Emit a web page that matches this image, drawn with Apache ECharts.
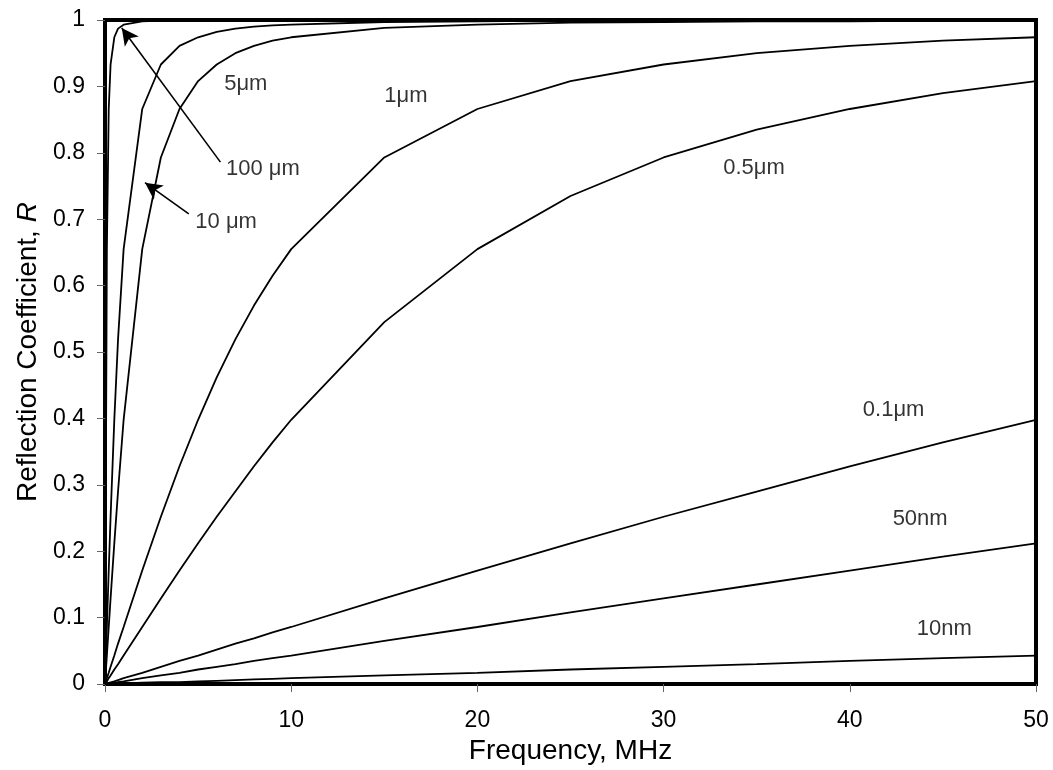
<!DOCTYPE html>
<html>
<head>
<meta charset="utf-8">
<script src="https://cdn.jsdelivr.net/npm/echarts@6/dist/echarts.min.js"></script>
<style>html,body{margin:0;padding:0;background:#fff}#c{width:1053px;height:770px}</style>
</head>
<body>
<div id="c"></div>
<script>
// Frequency (MHz)
const freq = [0, 0.1, 0.2, 0.3, 0.5, 0.7, 1, 2, 3, 4, 5, 6, 7, 8, 9, 10, 15, 20, 25, 30, 35, 40, 45, 50];
// Reflection coefficient R per film thickness
const r100um = [0, 0.655, 0.866, 0.933, 0.974, 0.987, 0.993, 0.998, 0.999, 0.9995, 0.9996, 0.9997, 0.9998, 0.9998, 0.9998, 0.9999, 0.9999, 0.9999, 0.9999, 0.9999, 0.9999, 0.9999, 0.9999, 0.9999];
const r10um  = [0, 0.086, 0.171, 0.252, 0.398, 0.519, 0.655, 0.866, 0.933, 0.961, 0.974, 0.982, 0.987, 0.990, 0.992, 0.993, 0.997, 0.998, 0.999, 0.999, 0.9995, 0.9996, 0.9997, 0.9997];
const r5um   = [0, 0.043, 0.086, 0.129, 0.212, 0.290, 0.398, 0.655, 0.793, 0.866, 0.908, 0.933, 0.950, 0.961, 0.969, 0.974, 0.988, 0.993, 0.996, 0.997, 0.998, 0.998, 0.999, 0.999];
const r1um   = [0, 0.009, 0.017, 0.026, 0.043, 0.061, 0.086, 0.171, 0.252, 0.328, 0.398, 0.462, 0.519, 0.570, 0.615, 0.655, 0.793, 0.866, 0.908, 0.933, 0.950, 0.961, 0.969, 0.974];
const r05um  = [0, 0.004, 0.009, 0.013, 0.022, 0.030, 0.043, 0.086, 0.129, 0.171, 0.212, 0.252, 0.290, 0.328, 0.364, 0.398, 0.545, 0.655, 0.735, 0.793, 0.835, 0.866, 0.890, 0.908];
const r01um  = [0, 0.001, 0.002, 0.003, 0.004, 0.006, 0.009, 0.017, 0.026, 0.035, 0.043, 0.052, 0.061, 0.069, 0.078, 0.086, 0.129, 0.171, 0.212, 0.252, 0.290, 0.328, 0.364, 0.398];
const r50nm  = [0, 0.0004, 0.001, 0.001, 0.002, 0.003, 0.004, 0.009, 0.013, 0.017, 0.022, 0.026, 0.030, 0.035, 0.039, 0.043, 0.065, 0.086, 0.108, 0.129, 0.150, 0.171, 0.192, 0.212];
const r10nm  = [0, 0.0001, 0.0002, 0.0003, 0.0004, 0.0006, 0.001, 0.002, 0.003, 0.003, 0.004, 0.005, 0.006, 0.007, 0.008, 0.009, 0.013, 0.017, 0.022, 0.026, 0.030, 0.035, 0.039, 0.043];
const seriesList = [
  ['100 μm', r100um], ['10 μm', r10um], ['5μm', r5um], ['1μm', r1um],
  ['0.5μm', r05um], ['0.1μm', r01um], ['50nm', r50nm], ['10nm', r10nm]
];
// Annotation labels: [x, y, text]
const labels = [
  [6.4, 0.903, '5μm'],
  [6.5, 0.775, '100 μm'],
  [4.85, 0.696, '10 μm'],
  [15.0, 0.885, '1μm'],
  [33.2, 0.777, '0.5μm'],
  [40.7, 0.413, '0.1μm'],
  [42.3, 0.248, '50nm'],
  [43.6, 0.0835, '10nm']
];
// Arrows: [tailX, tailY, tipX, tipY]
const arrows = [
  [6.2, 0.786, 0.9, 0.988],
  [4.5, 0.708, 2.15, 0.755]
];
const xTicks = {min: 0, max: 50, interval: 10};
const yTicks = {min: 0, max: 1, interval: 0.1};

const font = 'Liberation Sans, Arial, sans-serif';
const chart = echarts.init(document.getElementById('c'), null, {renderer: 'canvas'});
const series = seriesList.map(([name, vals]) => ({
  name, type: 'line', symbol: 'none', smooth: false,
  data: freq.map((f, i) => [f, vals[i]]),
  lineStyle: {color: '#000', width: 1.8},
  animation: false, z: 3
}));
series.push({
  type: 'scatter', symbolSize: 0, animation: false, silent: true, z: 4,
  data: labels.map(l => ({value: [l[0], l[1]], name: l[2]})),
  label: {show: true, position: 'right', distance: 0, formatter: p => p.name,
    color: '#000', fontSize: 22, fontFamily: font}
});
series.push({
  type: 'line', data: [], animation: false, silent: true,
  markLine: {
    silent: true, animation: false, symbolSize: [13, 17],
    label: {show: false},
    lineStyle: {color: '#000', width: 1.6, type: 'solid'},
    data: arrows.map(a => [{coord: [a[0], a[1]], symbol: 'none'}, {coord: [a[2], a[3]], symbol: 'arrow'}])
  }
});
chart.setOption({
  backgroundColor: '#fff',
  animation: false,
  grid: {left: 105, right: 17, top: 20, bottom: 77, show: true, borderColor: '#000', borderWidth: 4, backgroundColor: '#fff'},
  xAxis: {
    type: 'value', min: xTicks.min, max: xTicks.max, interval: xTicks.interval,
    name: 'Frequency, MHz', nameLocation: 'middle', nameGap: 34,
    nameTextStyle: {fontSize: 28, fontFamily: font, color: '#000'},
    axisLine: {show: true, lineStyle: {color: '#000', width: 4}},
    axisTick: {show: true, inside: false, length: 8, lineStyle: {color: '#666', width: 1}},
    axisLabel: {fontSize: 23, fontFamily: font, color: '#000', margin: 25},
    splitLine: {show: false}
  },
  yAxis: {
    type: 'value', min: yTicks.min, max: yTicks.max, interval: yTicks.interval,
    name: 'Reflection Coefficient, {i|R}', nameLocation: 'middle', nameGap: 63,
    nameTextStyle: {fontSize: 28, fontFamily: font, color: '#000',
      rich: {i: {fontStyle: 'italic', fontSize: 28, fontFamily: font, color: '#000'}}},
    axisLine: {show: true, lineStyle: {color: '#000', width: 4}},
    axisTick: {show: true, inside: false, length: 8, lineStyle: {color: '#666', width: 1}},
    axisLabel: {fontSize: 23, fontFamily: font, color: '#000', margin: 20},
    splitLine: {show: false}
  },
  series
});
</script>
</body>
</html>
